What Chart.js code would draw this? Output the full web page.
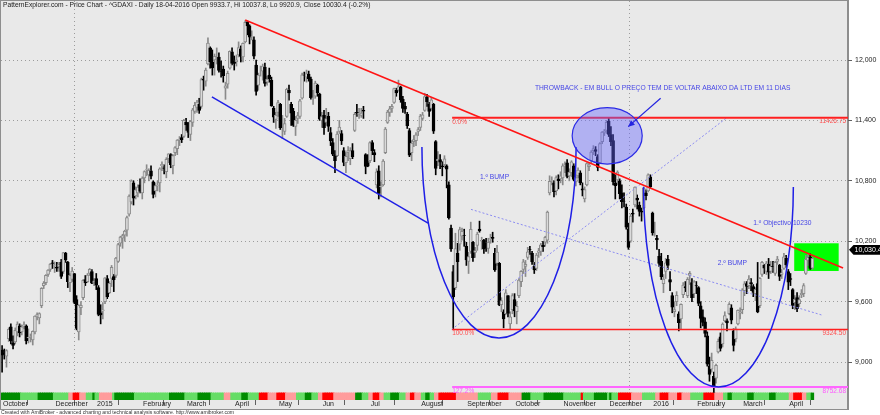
<!DOCTYPE html>
<html><head><meta charset="utf-8">
<script src="https://cdn.jsdelivr.net/npm/chart.js@4.4.1/dist/chart.umd.min.js"></script>
<style>html,body{margin:0;padding:0;background:#fff;overflow:hidden}</style>
</head><body>
<canvas id="c" width="880" height="415" style="display:block;width:880px;height:415px"></canvas>
<script>
// ---- axis data ----
const monthLabels = ['October','December','2015','February','March','April','May','Jun','Jul','August','September','October','November','December','2016','February','March','April'];
const monthBars   = [0,24,43,64,84,106,126,146,168,191,212,234,256,277,297,317,338,359];
const yTickValues = [9000,9600,10200,10800,11400,12000];

// ---- daily candles (^GDAXI, late Oct 2014 .. 18 Apr 2016), one month per line ----
const opens = [
9120,9090,9060,9234,
9350,9190,9200,9300,9360,9300,9360,9360,9240,9250,9220,9300,9450,9440,9560,9760,9790,9870,9920,9985,
9960,9940,9950,9990,9900,10080,9990,9790,9820,9880,9620,9300,9540,9640,9820,9800,9880,9900,9790,
9830,9740,9490,9510,9600,9830,9690,9830,9850,9860,10000,10180,10230,10260,10310,10470,10590,10780,10650,10680,10760,
10680,10830,10910,10860,10900,10790,10700,10750,10780,10950,10930,10890,11020,11060,10950,11080,11120,11210,11230,11240,
11380,11370,11260,11380,11490,11530,11560,11540,11810,11790,11960,12120,11980,12000,12040,12030,11890,11910,11720,11760,11920,12080,
11990,11980,12050,12110,12030,12180,12380,12340,12230,12200,11950,11750,11880,11890,11930,11780,11850,11800,11520,11410,
11480,11560,11350,11290,11440,11700,11560,11490,11340,11420,11440,11620,11850,11830,11860,11810,11620,11640,11750,11660,
11400,11450,11380,11440,11280,11180,11060,11050,11290,11270,11100,10980,11080,11020,11100,11300,11480,11460,11450,11500,11060,10980,
11000,11180,11080,10760,10900,10740,10760,11080,11380,11480,11520,11580,11700,11700,11730,11610,11540,11460,11300,11080,11190,11200,11290,
11330,11420,11500,11630,11560,11520,11560,11190,11000,11010,10950,10960,10950,10760,10330,9900,9740,10080,10170,10250,10260,
10150,10000,10100,10190,10090,10160,10320,10200,10210,10180,10130,10220,10240,10080,9980,9980,9570,9500,9480,9660,9380,9520,
9620,9500,9660,9800,9920,9950,10040,10120,10080,9950,9930,10090,10100,10160,10190,10210,10680,10800,10780,10700,10820,10820,
10830,10950,10980,10850,10880,10950,10790,10850,10880,10720,10620,10760,10940,11000,11100,11110,11040,10980,11190,11280,11300,
11390,11260,11200,10780,10810,10800,10680,10600,10540,10320,10200,10480,10560,10630,10560,10500,10530,10680,10700,10840,
10480,10310,10230,10050,10000,9780,9900,10020,9820,9660,9500,9600,9480,9430,9670,9750,9660,9860,9790,9680,
9760,9740,9560,9450,9400,9260,8960,8930,8860,8840,9100,9250,9180,9410,9410,9480,9540,9310,9230,9380,9490,
9520,9710,9780,9760,9790,9750,9680,9780,9560,9870,9960,9900,9970,9900,9950,9880,10000,9960,9870,9930,10030,
9900,9830,9720,9590,9640,9580,9670,9680,9880,10010,10040,9933.7];
const highs = [
9165,9130,9124,9341,
9380,9260,9340,9400,9380,9370,9400,9370,9330,9280,9310,9460,9490,9490,9740,9800,9870,9920,9980,10010,
9995,9990,9990,10020,10090,10090,10000,9880,9940,9880,9660,9570,9600,9820,9860,9880,9930,9920,9830,
9880,9760,9570,9590,9840,9860,9800,9960,9870,10040,10180,10250,10270,10310,10450,10660,10810,10800,10740,10760,10820,
10840,10900,10960,10920,10950,10800,10780,10800,10930,10990,10960,11030,11070,11070,11060,11140,11210,11240,11260,11410,
11420,11380,11400,11520,11580,11600,11620,11820,11840,11920,12220,12130,12100,12060,12120,12070,11990,11940,11780,11890,12090,12120,
12040,12050,12180,12140,12170,12390,12380,12350,12290,12230,12000,11870,11940,11960,11970,11840,11920,11830,11540,11480,
11600,11570,11450,11420,11720,11750,11580,11520,11440,11480,11610,11870,11880,11900,11890,11830,11700,11790,11760,11670,
11480,11500,11520,11480,11330,11220,11100,11290,11400,11300,11130,11080,11140,11130,11170,11480,11560,11520,11520,11540,11070,11060,
11190,11200,11110,10920,10950,10790,11010,11330,11500,11540,11560,11720,11720,11800,11740,11640,11580,11480,11320,11200,11250,11280,11330,
11460,11480,11670,11660,11580,11630,11570,11200,11090,11060,10990,11050,10960,10790,10360,9960,10280,10180,10340,10330,10320,
10190,10090,10390,10200,10140,10290,10400,10240,10220,10230,10230,10270,10290,10130,10160,9990,9640,9520,9720,9660,9500,9680,
9680,9600,9830,9910,10020,10010,10140,10150,10100,9990,10080,10130,10180,10200,10250,10500,10850,10840,10800,10850,10860,10890,
10970,10990,11010,10920,11000,10970,10860,10930,10900,10780,10740,10980,10980,11100,11150,11140,11060,11180,11290,11310,11400,
11430,11340,11260,10860,10900,10820,10760,10680,10570,10380,10470,10520,10740,10660,10590,10530,10740,10710,10870,10860,
10490,10390,10260,10120,10080,9870,10030,10060,9900,9690,9600,9700,9500,9580,9790,9800,9840,9900,9830,9810,
9800,9750,9600,9520,9440,9300,9050,9090,8900,8980,9230,9290,9390,9500,9430,9590,9570,9330,9350,9520,9540,
9730,9800,9800,9860,9830,9770,9740,9990,9840,10000,9970,10000,10030,10000,10000,10000,10050,9970,9920,10080,10060,
9920,9880,9730,9660,9690,9660,9720,9780,10060,10080,10075,10037.8];
const lows = [
8900,9030,8950,9205,
9180,9130,9180,9260,9250,9270,9330,9180,9190,9200,9170,9280,9420,9380,9540,9730,9770,9850,9900,9930,
9890,9900,9900,9830,9880,9990,9740,9700,9800,9580,9320,9220,9470,9620,9760,9790,9860,9780,9760,
9720,9460,9380,9430,9580,9630,9680,9750,9700,9840,9990,10150,10130,10200,10250,10450,10570,10560,10620,10640,10680,
10620,10780,10850,10800,10820,10630,10640,10700,10690,10900,10870,10830,10980,10930,10870,11050,11060,11150,11180,11230,
11300,11230,11200,11340,11470,11480,11470,11520,11700,11740,11950,11920,11850,11850,11960,11880,11830,11780,11610,11720,11910,11950,
11900,11940,12030,11980,11980,12170,12250,12160,12200,12010,11650,11700,11840,11800,11740,11750,11780,11540,11380,11320,
11440,11310,11220,11260,11430,11600,11350,11340,11250,11370,11420,11610,11790,11780,11790,11610,11560,11620,11640,11400,
11330,11260,11350,11290,11150,11050,10880,11040,11270,11160,10950,10880,11000,10960,11020,11290,11440,11420,11430,11420,10870,10940,
10980,11060,10990,10730,10620,10640,10750,11070,11370,11440,11480,11570,11640,11690,11580,11480,11470,11320,11040,11000,11140,11150,11250,
11300,11400,11490,11540,11440,11500,11270,10860,10950,10920,10850,10930,10730,10420,10100,9325,9720,9800,10110,10210,10150,
9960,9880,10080,10000,10040,10110,10290,10120,10080,10100,10080,10180,10190,9900,9960,9560,9500,9340,9470,9450,9330,9480,
9450,9380,9640,9750,9880,9850,10020,10070,9970,9880,9910,10040,10060,10100,10150,10180,10660,10760,10640,10660,10720,10780,
10760,10880,10830,10800,10840,10800,10750,10830,10760,10650,10590,10750,10900,10980,11060,11050,10900,10970,11170,11250,11270,
11240,11150,10760,10620,10760,10620,10530,10540,10320,10120,10190,10390,10540,10520,10450,10400,10520,10610,10690,10730,
10260,10250,10120,9950,9820,9690,9830,9920,9710,9490,9450,9560,9310,9330,9640,9700,9640,9770,9600,9640,
9680,9560,9340,9360,9250,8960,8810,8900,8700,8790,9090,9110,9150,9400,9310,9470,9380,9110,9200,9370,9430,
9480,9660,9680,9730,9710,9650,9610,9490,9540,9850,9880,9870,9830,9880,9890,9860,9970,9810,9830,9920,9940,
9720,9760,9530,9520,9500,9550,9640,9650,9870,9960,9920,9920.9];
const closes = [
9068,9082,9114,9326,
9210,9167,9316,9378,9291,9351,9369,9210,9249,9252,9306,9456,9472,9483,9732,9785,9861,9915,9974,9980,
9963,9934,9971,9851,10087,10014,9799,9861,9903,9594,9334,9563,9563,9811,9786,9865,9922,9783,9806,
9765,9473,9469,9518,9837,9648,9782,9941,9818,10032,10168,10242,10257,10300,10436,10649,10799,10628,10710,10738,10694,
10828,10891,10911,10905,10847,10664,10754,10752,10920,10963,10924,11014,11068,10961,11050,11131,11206,11211,11210,11401,
11356,11280,11390,11504,11551,11583,11500,11806,11799,11901,12167,11980,11922,12036,12040,11896,11887,11844,11744,11868,12086,11966,
11967,12001,12123,12035,12166,12375,12339,12227,12231,12039,11689,11850,11880,11939,11768,11811,11811,11547,11432,11454,
11577,11327,11350,11368,11709,11673,11472,11351,11400,11447,11595,11853,11849,11864,11815,11625,11625,11771,11672,11413,
11437,11328,11419,11340,11197,11065,11001,11265,11333,11197,10984,11044,11100,11101,11040,11461,11471,11472,11474,11492,10944,10945,
11180,11099,11058,10890,10676,10747,10997,11315,11484,11516,11539,11716,11673,11735,11604,11520,11512,11347,11056,11174,11211,11257,11308,
11444,11456,11636,11585,11490,11604,11293,10924,11015,10985,10940,11019,10915,10432,10124,9648,10128,9998,10315,10298,10259,
10016,10048,10318,10038,10108,10271,10303,10210,10123,10132,10189,10227,10229,9916,10092,9570,9612,9428,9688,9483,9450,9660,
9509,9553,9814,9902,9995,9970,10096,10119,9995,9915,10064,10104,10164,10147,10238,10491,10795,10801,10692,10832,10801,10850,
10950,10951,10845,10888,10988,10815,10833,10907,10782,10708,10713,10971,10959,11085,11120,11092,10933,11170,11284,11293,11382,
11261,11190,10789,10752,10886,10673,10593,10598,10340,10139,10450,10469,10738,10608,10497,10489,10727,10653,10860,10743,
10283,10310,10214,9979,9849,9825,9985,9960,9794,9545,9521,9664,9392,9574,9765,9736,9822,9881,9640,9798,
9757,9582,9434,9393,9286,8979,8879,9017,8752,8967,9207,9135,9377,9463,9388,9573,9416,9167,9331,9513,9495,
9717,9777,9751,9824,9778,9692,9723,9498,9831,9990,9933,9984,9892,9950,9948,9990,10023,9851,9887,10046,9966,
9794,9822,9564,9624,9530,9622,9682,9761,10020,10040,9930,10030.4];

// ---- colour ribbon under the price (runs of G=dark green, g=light green, R=red, r=pink) ----
const stripRuns = 'GgGgrRrgGgrgGgGgGgrgGgRrRrgGgrRrGgrRrgGgrRrgGgrRrgrRrGgGgRgGgGgRrgrRrRrgRrgGgGgGgrRrgG';
const stripRunLengths = [9,8,7,7,2,3,3,3,1,2, 6,1,9,16,7,6,6,6,3,5, 3,5,4,4,4,5,4,3,3,2, 5,10,3,3,2,3,2,3,4,3,
  2,2,3,2,2,2,2,8,10,6, 3,5,6,4,6,9,8,1,5,6, 1,1,3,6,5,6,2,4,4,2, 4,6,5,4,2,2,7,3,7,3, 6,2,4,2,2,1];
const stripRange = [8624, 8694];

// ---- drawings, in (bar index, price) ----
const ltdLine = [[111, 12397], [384, 9935]];
const channelLine = [[95.8, 11633], [194.5, 10381]];
const bumpArcs = [[226.9, 11136, 35.2, 1897], [327.1, 10739, 34.2, 1986]]; // cx, cy, rx(bars), ry(points)
const throwbackEllipse = [276.3, 11247, 16, 280];
const arrowLine = [[300.7, 11620], [285.9, 11338]];
const fibStartBar = 205.5;
const fibLevels = [11426.75, 9324.5, 8752.68];
const fibPercents = ['0.0%', '100.0%', '127.2%'];
const fibValueLabels = ['11426.75', '9324.50', '8752.68'];
const guideLines = [[[205.3, 9324.5], [330.9, 11426.75]], [[214.1, 10517], [374.2, 9468]]];
const targetBox = [361.7, 10180, 382, 9905];
const notes = [
  ['THROWBACK - EM BULL O PREÇO TEM DE VOLTAR ABAIXO DA LTD EM 11 DIAS', 243.3, 11722],
  ['1.º BUMP', 218.2, 10841],
  ['2.º BUMP', 326.8, 9981],
  ['1.º Objectivo 10230', 343, 10384]
];
const lastPriceLabel = ['10,030.4', 10115];
const titleText = 'PatternExplorer.com - Price Chart - ^GDAXI - Daily 18-04-2016 Open 9933.7, Hi 10037.8, Lo 9920.9, Close 10030.4 (-0.2%)';
const footerText = 'Created with AmiBroker - advanced charting and technical analysis software. http://www.amibroker.com';

// ---- build ----
const FONT = '"Liberation Sans", Arial, sans-serif';
const stripColors = {G:'#008c00', g:'#66dd66', R:'#ff0000', r:'#ff9c9c'};
const stripCodes = [];
for (let k = 0; k < stripRuns.length; k++) for (let j = 0; j < stripRunLengths[k]; j++) stripCodes.push(stripRuns[k]);
const up = i => closes[i] >= opens[i];

const overlay = {
  id: 'overlay',
  beforeDraw(chart) {
    const c = chart.ctx; c.save();
    c.fillStyle = '#ffffff'; c.fillRect(0, 0, 880, 415);
    c.fillStyle = '#e9e9e9'; c.fillRect(0, 0, 848, 410);
    c.strokeStyle = '#8e8e8e'; c.lineWidth = 1; c.beginPath();
    c.moveTo(0, 0.5); c.lineTo(848, 0.5);
    c.moveTo(0.5, 0); c.lineTo(0.5, 410);
    c.moveTo(0, 409.5); c.lineTo(848, 409.5);
    c.stroke();
    c.lineWidth = 2; c.beginPath(); c.moveTo(848, 0); c.lineTo(848, 410); c.stroke();
    c.restore();
  },
  beforeDatasetsDraw(chart) {
    const c = chart.ctx, X = v => chart.scales.x.getPixelForValue(v), Y = v => chart.scales.y.getPixelForValue(v);
    c.save();
    c.fillStyle = '#00ff00';
    const x0 = X(targetBox[0]), y0 = Y(targetBox[1]), x1 = X(targetBox[2]), y1 = Y(targetBox[3]);
    c.fillRect(x0, y0, x1 - x0, y1 - y0);
    c.restore();
  },
  afterDatasetsDraw(chart) {
    const c = chart.ctx, ca = chart.chartArea;
    const X = v => chart.scales.x.getPixelForValue(v), Y = v => chart.scales.y.getPixelForValue(v);
    c.save();
    c.beginPath(); c.rect(ca.left, ca.top, ca.right - ca.left, ca.bottom - ca.top); c.clip();
    // dotted guide lines
    c.strokeStyle = '#8c8cf2'; c.lineWidth = 1; c.setLineDash([2, 2]);
    guideLines.forEach(s => { c.beginPath(); c.moveTo(X(s[0][0]), Y(s[0][1])); c.lineTo(X(s[1][0]), Y(s[1][1])); c.stroke(); });
    c.setLineDash([]);
    // fibonacci levels
    const fibCol = ['#ff2020', '#ff2020', '#ff66ff'], fibTxt = ['#ff4d4d', '#ff4d4d', '#ff55ff'], fibW = [2, 1.5, 2];
    fibLevels.forEach((v, k) => {
      c.strokeStyle = fibCol[k]; c.lineWidth = fibW[k];
      c.beginPath(); c.moveTo(X(fibStartBar), Y(v)); c.lineTo(ca.right, Y(v)); c.stroke();
      c.fillStyle = fibTxt[k]; c.font = '6.5px ' + FONT; c.textBaseline = 'top';
      c.textAlign = 'left'; c.fillText(fibPercents[k], X(fibStartBar), Y(v) + 1);
      c.textAlign = 'right'; c.fillText(fibValueLabels[k], ca.right - 2, Y(v) + 0.5);
    });
    // channel line
    c.strokeStyle = '#1f1fe6'; c.lineWidth = 1.5;
    c.beginPath(); c.moveTo(X(channelLine[0][0]), Y(channelLine[0][1])); c.lineTo(X(channelLine[1][0]), Y(channelLine[1][1])); c.stroke();
    // bump arcs
    bumpArcs.forEach(a => {
      const cx = X(a[0]), cy = Y(a[1]), rx = X(a[0] + a[2]) - cx, ry = Y(a[1] - a[3]) - cy;
      c.beginPath(); c.ellipse(cx, cy, rx, ry, 0, 0, Math.PI); c.stroke();
    });
    // throwback ellipse
    {
      const e = throwbackEllipse, cx = X(e[0]), cy = Y(e[1]), rx = X(e[0] + e[2]) - cx, ry = Y(e[1] - e[3]) - cy;
      c.beginPath(); c.ellipse(cx, cy, rx, ry, 0, 0, Math.PI * 2);
      c.fillStyle = 'rgba(100,100,255,0.42)'; c.fill();
      c.strokeStyle = '#2a2ae6'; c.lineWidth = 1.2; c.stroke();
    }
    // LTD red line
    c.strokeStyle = '#ff1414'; c.lineWidth = 1.6;
    c.beginPath(); c.moveTo(X(ltdLine[0][0]), Y(ltdLine[0][1])); c.lineTo(X(ltdLine[1][0]), Y(ltdLine[1][1])); c.stroke();
    // arrow
    {
      const ax = X(arrowLine[0][0]), ay = Y(arrowLine[0][1]), bx = X(arrowLine[1][0]), by = Y(arrowLine[1][1]);
      c.strokeStyle = '#2424e0'; c.fillStyle = '#2424e0'; c.lineWidth = 1.2;
      c.beginPath(); c.moveTo(ax, ay); c.lineTo(bx, by); c.stroke();
      const ang = Math.atan2(by - ay, bx - ax), L = 7, W = 0.45;
      c.beginPath(); c.moveTo(bx, by);
      c.lineTo(bx - L * Math.cos(ang - W), by - L * Math.sin(ang - W));
      c.lineTo(bx - L * Math.cos(ang + W), by - L * Math.sin(ang + W));
      c.closePath(); c.fill();
    }
    // notes
    c.fillStyle = '#4646e6'; c.font = '6.7px ' + FONT; c.textAlign = 'left'; c.textBaseline = 'middle';
    notes.forEach(n => c.fillText(n[0], X(n[1]), Y(n[2])));
    c.restore();
  },
  afterDraw(chart) {
    const c = chart.ctx, Y = v => chart.scales.y.getPixelForValue(v);
    c.save();
    c.fillStyle = '#1a1a1a'; c.font = '6.7px ' + FONT; c.textAlign = 'left'; c.textBaseline = 'middle';
    c.fillText(titleText, 3, 5.5);
    c.fillStyle = '#333'; c.font = '5.1px ' + FONT;
    c.fillText(footerText, 1, 412.5);
    const y = Y(lastPriceLabel[1]);
    c.fillStyle = '#000'; c.beginPath();
    c.moveTo(849, y); c.lineTo(853.5, y - 4.8); c.lineTo(880, y - 4.8); c.lineTo(880, y + 4.8); c.lineTo(853.5, y + 4.8); c.closePath(); c.fill();
    c.fillStyle = '#fff'; c.font = '7px ' + FONT; c.fillText(lastPriceLabel[0], 854.5, y + 0.5);
    c.restore();
  }
};

const idx = closes.map((_, i) => i);
new Chart(document.getElementById('c'), {
  type: 'bar',
  data: {
    datasets: [
      { label: 'bodies', order: 1, grouped: false, barThickness: 3, borderWidth: 1, borderSkipped: false,
        data: idx.map(i => ({x: i, y: [opens[i], closes[i]]})),
        backgroundColor: ctx => up(ctx.dataIndex) ? '#dadada' : '#000000',
        borderColor: ctx => up(ctx.dataIndex) ? '#8a8a8a' : '#000000' },
      { label: 'wicks', order: 2, grouped: false, barThickness: 1, borderWidth: 0,
        data: idx.map(i => ({x: i, y: [lows[i], highs[i]]})),
        backgroundColor: ctx => up(ctx.dataIndex) ? '#8a8a8a' : '#000000' },
      { label: 'strip', order: 3, grouped: false, barThickness: 2.8, borderWidth: 0,
        data: stripCodes.map((s, i) => ({x: i, y: stripRange})),
        backgroundColor: ctx => stripColors[stripCodes[ctx.dataIndex]] }
    ]
  },
  options: {
    responsive: false, animation: false, events: [],
    devicePixelRatio: 1,
    layout: { padding: { left: 1, top: 1, right: 0, bottom: 0 } },
    plugins: { legend: { display: false }, tooltip: { enabled: false } },
    scales: {
      x: {
        type: 'linear', min: -0.5, max: -0.5 + 847 / 2.19, offset: false,
        afterBuildTicks: s => { s.ticks = monthBars.map(b => ({value: b - 0.5})); },
        afterFit: s => { s.height = 15; s.paddingLeft = 0; s.paddingRight = 0; },
        ticks: { autoSkip: false, maxRotation: 0, align: 'start', padding: -5, color: '#1e1e1e',
          font: { family: FONT, size: 7 }, callback: (v, i) => ' ' + monthLabels[i] },
        grid: { drawOnChartArea: true, drawTicks: true, tickLength: 5, tickColor: '#606060', tickBorderDash: [],
          color: ctx => (ctx.index !== undefined && /^\d{4}$/.test(monthLabels[ctx.index])) ? '#9c9c9c' : 'rgba(0,0,0,0)' },
        border: { display: false, dash: [1, 3] }
      },
      y: {
        type: 'linear', position: 'right', min: 8623.8, max: 12585.9,
        afterBuildTicks: s => { s.ticks = yTickValues.map(v => ({value: v})); },
        afterFit: s => { s.width = 32; s.paddingTop = 0; s.paddingBottom = 0; },
        ticks: { padding: 3, color: '#1e1e1e', font: { family: FONT, size: 7 },
          callback: v => Number(v).toLocaleString('en-US') },
        grid: { drawOnChartArea: true, drawTicks: true, tickLength: 4, tickColor: '#606060', tickBorderDash: [], color: '#9c9c9c' },
        border: { display: false, dash: [1, 3] }
      }
    }
  },
  plugins: [overlay]
});
</script>
</body></html>
